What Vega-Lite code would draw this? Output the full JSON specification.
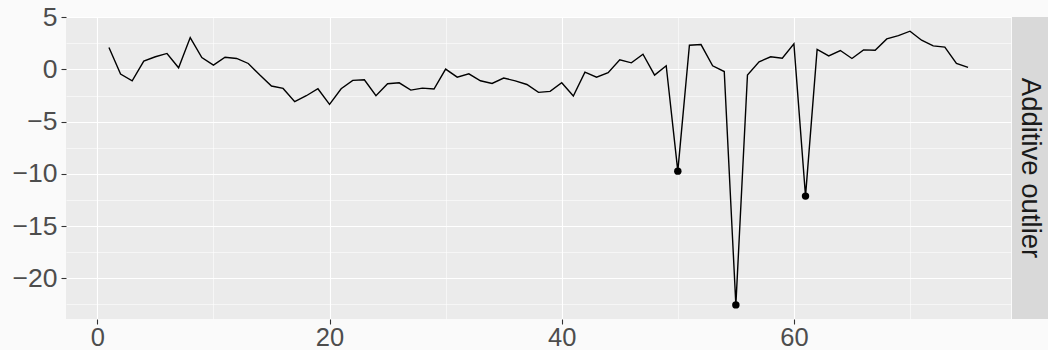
{
  "$schema": "https://vega.github.io/schema/vega-lite/v6.json",
  "padding": {"left": 12, "top": 4, "right": 0, "bottom": 0},
  "background": "#FAFAFA",
  "config": {
    "font": "Liberation Sans",
    "view": {"stroke": null}
  },
  "datasets": {
    "series": [
      {"t": 1, "v": 2.10, "outlier": false},
      {"t": 2, "v": -0.45, "outlier": false},
      {"t": 3, "v": -1.09, "outlier": false},
      {"t": 4, "v": 0.79, "outlier": false},
      {"t": 5, "v": 1.21, "outlier": false},
      {"t": 6, "v": 1.53, "outlier": false},
      {"t": 7, "v": 0.16, "outlier": false},
      {"t": 8, "v": 3.05, "outlier": false},
      {"t": 9, "v": 1.14, "outlier": false},
      {"t": 10, "v": 0.41, "outlier": false},
      {"t": 11, "v": 1.17, "outlier": false},
      {"t": 12, "v": 1.05, "outlier": false},
      {"t": 13, "v": 0.57, "outlier": false},
      {"t": 14, "v": -0.54, "outlier": false},
      {"t": 15, "v": -1.59, "outlier": false},
      {"t": 16, "v": -1.82, "outlier": false},
      {"t": 17, "v": -3.09, "outlier": false},
      {"t": 18, "v": -2.52, "outlier": false},
      {"t": 19, "v": -1.85, "outlier": false},
      {"t": 20, "v": -3.35, "outlier": false},
      {"t": 21, "v": -1.85, "outlier": false},
      {"t": 22, "v": -1.05, "outlier": false},
      {"t": 23, "v": -0.99, "outlier": false},
      {"t": 24, "v": -2.52, "outlier": false},
      {"t": 25, "v": -1.37, "outlier": false},
      {"t": 26, "v": -1.28, "outlier": false},
      {"t": 27, "v": -1.98, "outlier": false},
      {"t": 28, "v": -1.79, "outlier": false},
      {"t": 29, "v": -1.88, "outlier": false},
      {"t": 30, "v": 0.03, "outlier": false},
      {"t": 31, "v": -0.74, "outlier": false},
      {"t": 32, "v": -0.42, "outlier": false},
      {"t": 33, "v": -1.09, "outlier": false},
      {"t": 34, "v": -1.34, "outlier": false},
      {"t": 35, "v": -0.83, "outlier": false},
      {"t": 36, "v": -1.09, "outlier": false},
      {"t": 37, "v": -1.44, "outlier": false},
      {"t": 38, "v": -2.20, "outlier": false},
      {"t": 39, "v": -2.10, "outlier": false},
      {"t": 40, "v": -1.28, "outlier": false},
      {"t": 41, "v": -2.55, "outlier": false},
      {"t": 42, "v": -0.26, "outlier": false},
      {"t": 43, "v": -0.74, "outlier": false},
      {"t": 44, "v": -0.32, "outlier": false},
      {"t": 45, "v": 0.92, "outlier": false},
      {"t": 46, "v": 0.63, "outlier": false},
      {"t": 47, "v": 1.46, "outlier": false},
      {"t": 48, "v": -0.54, "outlier": false},
      {"t": 49, "v": 0.35, "outlier": false},
      {"t": 50, "v": -9.74, "outlier": true},
      {"t": 51, "v": 2.32, "outlier": false},
      {"t": 52, "v": 2.38, "outlier": false},
      {"t": 53, "v": 0.35, "outlier": false},
      {"t": 54, "v": -0.20, "outlier": false},
      {"t": 55, "v": -22.55, "outlier": true},
      {"t": 56, "v": -0.54, "outlier": false},
      {"t": 57, "v": 0.73, "outlier": false},
      {"t": 58, "v": 1.21, "outlier": false},
      {"t": 59, "v": 1.08, "outlier": false},
      {"t": 60, "v": 2.45, "outlier": false},
      {"t": 61, "v": -12.13, "outlier": true},
      {"t": 62, "v": 1.91, "outlier": false},
      {"t": 63, "v": 1.30, "outlier": false},
      {"t": 64, "v": 1.81, "outlier": false},
      {"t": 65, "v": 1.05, "outlier": false},
      {"t": 66, "v": 1.87, "outlier": false},
      {"t": 67, "v": 1.84, "outlier": false},
      {"t": 68, "v": 2.92, "outlier": false},
      {"t": 69, "v": 3.24, "outlier": false},
      {"t": 70, "v": 3.66, "outlier": false},
      {"t": 71, "v": 2.80, "outlier": false},
      {"t": 72, "v": 2.26, "outlier": false},
      {"t": 73, "v": 2.13, "outlier": false},
      {"t": 74, "v": 0.57, "outlier": false},
      {"t": 75, "v": 0.19, "outlier": false}
    ],
    "strip": [{"label": "Additive outlier"}]
  },
  "hconcat": [
    {
      "width": 945,
      "height": 302,
      "view": {"fill": "#EBEBEB", "stroke": null},
      "data": {"name": "series"},
      "encoding": {
        "x": {
          "field": "t",
          "type": "quantitative",
          "scale": {"domain": [-2.7, 78.7], "nice": false, "zero": false},
          "axis": {
            "title": null,
            "domain": false,
            "values": [0, 10, 20, 30, 40, 50, 60, 70],
            "labelExpr": "datum.value % 20 === 0 ? datum.label : ''",
            "format": "d",
            "labelFontSize": 25.5,
            "labelColor": "#4D4D4D",
            "labelPadding": 1,
            "tickColor": "#333333",
            "tickSize": 5,
            "tickWidth": 1.1,
            "tickOpacity": {"condition": {"test": "datum.value % 20 === 0", "value": 1}, "value": 0},
            "gridColor": "#FFFFFF",
            "gridWidth": {"condition": {"test": "datum.value % 20 === 0", "value": 1.1}, "value": 0.55}
          }
        },
        "y": {
          "field": "v",
          "type": "quantitative",
          "scale": {"domain": [-23.9, 5.02], "nice": false, "zero": false},
          "axis": {
            "title": null,
            "domain": false,
            "values": [-22.5, -20, -17.5, -15, -12.5, -10, -7.5, -5, -2.5, 0, 2.5, 5],
            "labelExpr": "datum.value % 5 === 0 ? datum.label : ''",
            "format": "d",
            "labelFontSize": 26.5,
            "labelColor": "#4D4D4D",
            "labelPadding": 4,
            "tickColor": "#333333",
            "tickSize": 5,
            "tickWidth": 1.1,
            "tickOpacity": {"condition": {"test": "datum.value % 5 === 0", "value": 1}, "value": 0},
            "gridColor": "#FFFFFF",
            "gridWidth": {"condition": {"test": "datum.value % 5 === 0", "value": 1.1}, "value": 0.55}
          }
        }
      },
      "layer": [
        {"mark": {"type": "line", "color": "#000000", "strokeWidth": 1.4}},
        {
          "transform": [{"filter": "datum.outlier"}],
          "mark": {"type": "point", "filled": true, "color": "#000000", "opacity": 1, "size": 55}
        }
      ]
    },
    {
      "width": 36,
      "height": 302,
      "view": {"fill": "#D9D9D9", "stroke": null},
      "data": {"name": "strip"},
      "mark": {"type": "text", "angle": 90, "fontSize": 27.5, "color": "#1A1A1A", "align": "center", "baseline": "middle"},
      "encoding": {"text": {"field": "label"}}
    }
  ],
  "spacing": 1
}
